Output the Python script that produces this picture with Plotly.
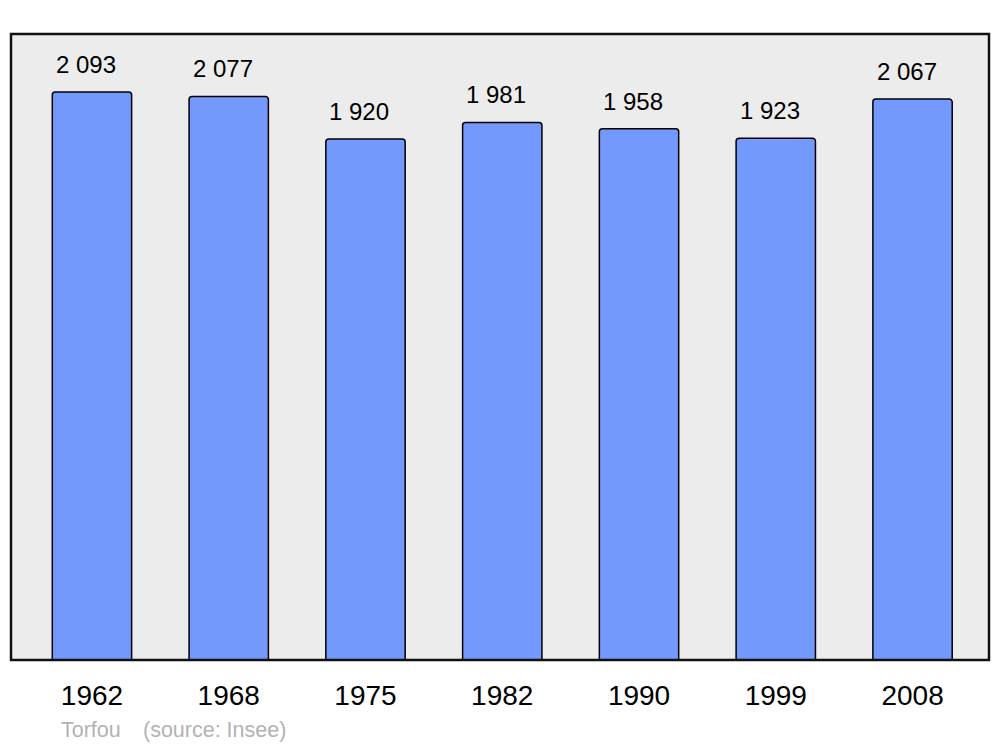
import plotly.graph_objects as go

years = ["1962", "1968", "1975", "1982", "1990", "1999", "2008"]
population = [2093, 2077, 1920, 1981, 1958, 1923, 2067]
value_labels = ["2 093", "2 077", "1 920", "1 981", "1 958", "1 923", "2 067"]
caption = "Torfou   \u2009(source: Insee)"

FONT = "Liberation Sans, Arial, sans-serif"

# page body has an 8px default margin; figure sized to compensate
PLOT_W = 978
PLOT_H = 626

fig = go.Figure()
fig.add_trace(go.Bar(
    x=list(range(len(years))),
    y=population,
    width=0.58,
    marker=dict(color="#7399ff", line=dict(color="#000000", width=1.5), cornerradius=3),
    hoverinfo="skip",
))

for i, (v, lab) in enumerate(zip(population, value_labels)):
    fig.add_annotation(
        x=i, y=v, text=lab, showarrow=False, xref="x", yref="y",
        yanchor="bottom", yshift=12, xshift=-6,
        font=dict(family=FONT, size=24, color="#000000"),
    )

fig.add_annotation(
    x=(59 - 11) / PLOT_W, y=-(730 - 660) / PLOT_H, xref="paper", yref="paper",
    text=caption, showarrow=False, xanchor="left", yanchor="middle",
    font=dict(family=FONT, size=21.5, color="#b3b3b3"),
)

fig.update_layout(
    width=992, height=739,
    margin=dict(l=3, r=11, t=26, b=87),
    paper_bgcolor="#ffffff",
    plot_bgcolor="#ececec",
    showlegend=False,
    xaxis=dict(
        range=[-0.592, 6.559],
        tickmode="array", tickvals=list(range(len(years))), ticktext=years,
        showgrid=False, zeroline=False, showline=False, ticks="",
        tickfont=dict(family=FONT, size=28, color="#000000"),
        ticklabelstandoff=16,
    ),
    yaxis=dict(
        range=[0, 2307], showgrid=False, zeroline=False, showticklabels=False,
        showline=False, ticks="",
    ),
    shapes=[dict(
        type="rect", xref="paper", yref="paper", x0=0, x1=1, y0=0, y1=1,
        line=dict(color="#111111", width=2.5), fillcolor="rgba(0,0,0,0)", layer="above",
    )],
)

fig.write_html("out.html")
